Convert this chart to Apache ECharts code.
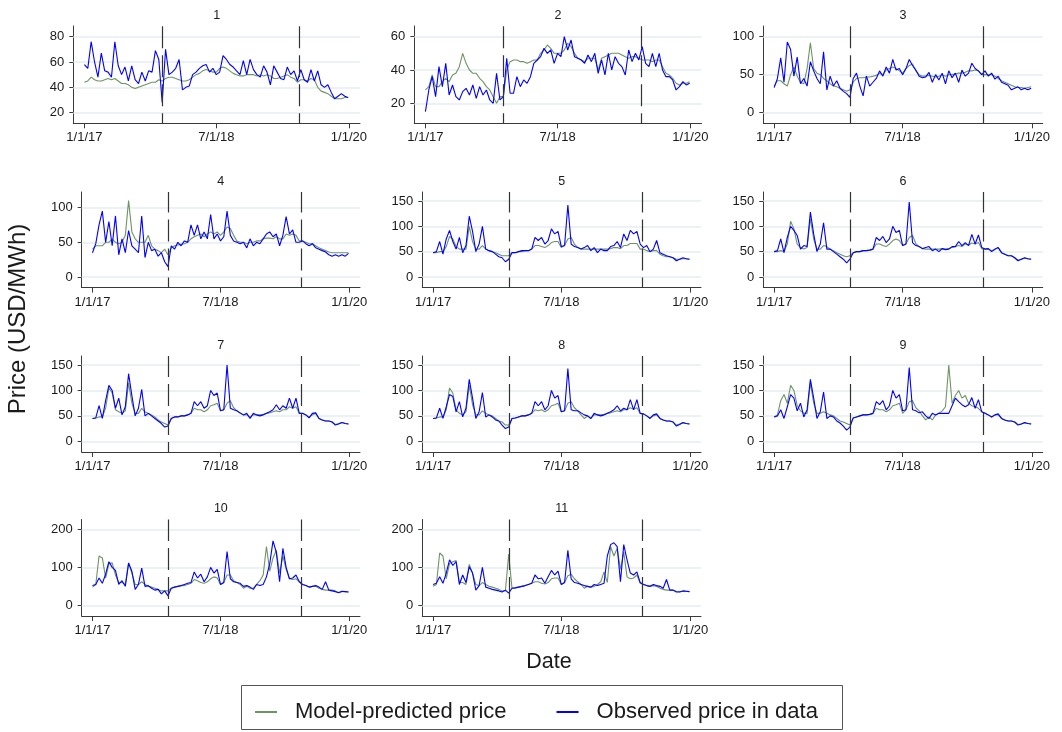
<!DOCTYPE html>
<html>
<head>
<meta charset="utf-8">
<script src="https://cdn.jsdelivr.net/npm/echarts@6/dist/echarts.min.js"></script>
<style>
  html, body { margin: 0; padding: 0; background: #ffffff; }
  #chart { width: 1062px; height: 732px; }
</style>
</head>
<body>
<div id="chart"></div>
<script>
// ---- Time base: fortnightly observations, 1 Jan 2017 to 29 Dec 2019 ----
const DAY = 86400000;
const START_DATE = Date.UTC(2017, 0, 1);
const STEP_DAYS = 14;
const POINT_COUNT = 79;
const dates = [];
for (let i = 0; i < POINT_COUNT; i++) dates.push(START_DATE + i * STEP_DAYS * DAY);

// x tick labels and the two period breaks
const xTickDates = [Date.UTC(2017, 0, 1), Date.UTC(2018, 6, 1), Date.UTC(2020, 0, 1)];
const breakDates = [Date.UTC(2017, 10, 20), Date.UTC(2019, 5, 10)];

const panelTitles = ['1', '2', '3', '4', '5', '6', '7', '8', '9', '10', '11'];

// y tick labels per panel
const yTicks = [
  [20, 40, 60, 80],
  [20, 40, 60],
  [0, 50, 100],
  [0, 50, 100],
  [0, 50, 100, 150],
  [0, 50, 100, 150],
  [0, 50, 100, 150],
  [0, 50, 100, 150],
  [0, 50, 100, 150],
  [0, 100, 200],
  [0, 100, 200]
];
// y axis extents per panel
const yRanges = [
  [11.6, 88.4], [8, 66.4], [-14, 114],
  [-15.3, 122.5], [-21, 167.8], [-21, 167.8],
  [-21, 167.8], [-21, 167.8], [-21, 167.8],
  [-28.2, 226.3], [-28.2, 226.3]
];

// ---- Prices (USD/MWh) ----
const model1 = [44,45,48,46,45,45,46,47,46,47, 45,43,43,42,40,39,40,41,42,43, 44,44,46,45,47,48,48,47,46,45,
  45,46,48,50,51,53,54,53,52,52, 55,56,55,53,51,50,49,49,50,50, 50,49,50,49,50,49,47,47,48,49,
  50,48,47,44,46,46,45,47,46,40, 37,36,35,33,31,31,31,32,32];
const observed1 = [58,55,76,60,48,67,53,52,48,76, 57,50,56,45,57,46,43,52,45,53, 52,69,62,28,70,50,52,55,62,38,
  40,41,50,52,55,57,58,52,55,50, 52,65,62,58,56,53,50,61,50,62, 54,50,48,57,52,42,57,52,47,46,
  56,50,53,45,54,46,44,54,45,53, 42,40,42,36,31,33,35,33,32];

const model2 = [28,30,37,30,30,33,35,33,37,38, 42,50,44,40,38,38,35,33,30,28, 24,20,24,24,40,45,46,46,45,45,
  44,45,46,46,50,52,55,53,50,50, 50,52,56,54,50,47,46,45,47,47, 47,40,47,48,49,50,50,50,49,48,
  47,48,48,47,46,46,46,45,46,46, 42,38,37,35,32,31,32,32,33];
const observed2 = [15,28,36,24,42,30,44,25,31,24, 22,27,29,25,31,23,30,25,28,22, 20,38,22,24,47,26,26,36,30,34,
  32,36,44,46,48,53,50,52,44,50, 48,60,52,58,48,47,46,44,49,45, 50,38,46,37,50,40,48,44,42,37,
  52,45,50,46,54,44,42,50,42,50, 40,36,36,34,28,30,33,31,32];

const model3 = [35,42,42,38,35,50,60,48,40,38, 58,92,58,52,50,45,42,38,35,34, 32,30,28,30,40,45,46,46,47,47,
  48,49,52,50,56,58,60,58,55,52, 58,62,64,55,50,48,48,49,48,47, 48,50,48,50,50,51,52,52,53,55,
  55,56,55,50,50,50,50,48,45,42, 40,38,36,34,33,33,32,33,34];
const observed3 = [33,45,72,40,93,83,48,73,38,45, 35,67,55,45,38,80,30,48,35,42, 32,28,25,20,45,52,35,22,48,35,
  40,45,55,48,60,52,70,56,58,50, 58,70,62,56,48,46,47,53,40,50, 43,52,38,55,46,52,40,56,48,52,
  65,58,55,50,55,48,52,44,48,40, 38,36,30,32,34,30,32,30,32];

const model4 = [40,45,45,45,50,50,55,50,48,50, 60,110,65,55,50,50,50,60,45,40, 38,35,40,32,42,45,46,47,48,50,
  55,58,60,62,58,62,65,62,65,60, 65,72,70,60,52,50,50,48,50,50, 52,52,55,56,56,55,58,55,55,62,
  60,62,60,52,52,50,48,48,45,42, 40,38,36,35,35,35,35,35,35];
const observed4 = [35,48,75,95,50,80,45,88,32,55, 35,67,45,40,35,88,28,50,38,40, 30,35,22,15,45,40,50,45,52,50,
  75,60,75,55,65,55,90,55,62,52, 58,95,60,52,50,48,50,42,55,45, 50,48,55,62,65,58,62,45,60,87,
  62,68,50,50,52,48,45,48,42,40, 38,36,32,30,32,30,32,30,34];

const model5 = [48,48,50,50,60,80,75,60,55,55, 55,100,70,55,55,62,55,52,50,48, 45,42,42,42,48,48,50,50,52,52,
  55,62,62,60,58,62,68,70,70,58, 62,75,78,65,58,55,55,55,55,55, 55,55,55,55,56,58,58,56,62,62,
  66,66,66,55,55,52,50,52,52,45, 42,40,40,38,35,35,36,36,35];
const observed5 = [48,50,70,45,75,92,70,55,78,48, 62,120,90,50,65,100,55,52,50,45, 40,38,30,35,48,48,50,52,52,52,
  55,78,72,78,65,72,95,85,90,60, 62,142,65,60,58,55,58,62,52,58, 48,55,52,52,60,62,70,58,85,72,
  92,85,90,65,58,62,50,55,72,48, 45,42,40,38,32,35,38,36,35];

const model6 = [50,50,52,50,65,110,95,65,58,55, 58,115,75,55,55,62,60,55,52,48, 45,42,40,42,48,50,50,52,52,53,
  55,65,65,62,60,65,72,75,72,62, 65,78,82,66,60,56,55,55,55,55, 55,56,55,56,58,60,62,60,65,63,
  67,65,68,56,55,55,52,54,58,48, 45,42,42,38,33,35,37,36,35];
const observed6 = [50,52,75,48,78,100,92,82,55,62, 60,128,85,50,65,107,55,55,50,45, 40,35,28,35,48,50,50,52,52,53,
  55,78,72,80,68,75,100,88,92,62, 65,148,68,62,60,56,58,60,52,55, 50,56,54,55,60,60,70,62,68,62,
  84,65,83,58,55,56,50,55,58,48, 45,42,42,38,32,35,38,36,35];

const model7 = [45,46,48,48,65,105,95,62,58,55, 60,115,75,55,55,65,58,55,52,48, 42,38,35,32,45,48,48,50,50,52,
  55,65,62,62,58,62,70,72,75,60, 62,75,80,66,60,55,52,52,48,52, 52,52,53,55,56,58,60,58,62,62,
  68,65,68,55,55,52,48,52,55,45, 42,40,40,38,33,35,37,35,34];
const observed7 = [45,46,70,45,80,110,100,65,85,52, 68,133,90,50,65,102,50,55,50,45, 40,35,28,30,45,48,48,50,50,52,
  55,78,70,78,65,70,100,90,95,60, 62,150,65,62,60,56,52,55,45,55, 52,50,52,55,58,62,72,62,70,65,
  85,65,85,55,55,52,46,55,56,45, 42,40,40,38,32,34,37,35,34];

const model8 = [45,46,48,48,62,105,95,62,55,52, 58,110,72,52,52,60,55,52,50,45, 40,38,32,32,45,46,48,50,50,52,
  55,62,60,62,58,62,70,72,75,58, 60,75,78,66,60,52,45,50,45,52, 52,52,53,55,56,58,60,58,62,62,
  66,63,66,55,54,50,46,50,52,45, 42,40,40,38,32,34,36,35,34];
const observed8 = [45,46,65,45,68,92,88,58,78,48, 65,122,85,45,58,96,48,52,48,42, 40,32,25,28,45,46,48,50,50,52,
  55,78,70,78,62,70,100,85,90,58, 60,143,62,60,60,56,52,50,45,55, 52,50,52,55,58,62,70,60,65,62,
  82,62,82,55,54,50,45,52,54,45, 42,40,40,38,30,33,37,35,34];

const model9 = [48,52,80,92,75,110,100,70,60,55, 55,115,75,55,55,58,55,52,50,45, 40,38,35,32,46,48,50,52,52,53,
  55,65,62,62,58,62,70,72,75,55, 62,78,80,66,60,50,42,48,42,52, 55,60,68,150,75,90,100,85,90,75,
  70,68,65,58,55,52,48,52,52,45, 42,40,40,38,33,34,36,35,34];
const observed9 = [48,50,62,45,68,92,85,60,75,48, 62,122,85,45,58,97,45,50,48,40, 36,30,22,28,46,48,50,52,52,53,
  55,78,72,80,62,70,100,85,92,60, 62,145,62,60,56,58,50,45,55,52, 55,55,55,55,70,85,78,72,68,72,
  86,65,82,58,55,52,48,52,54,45, 42,40,40,38,32,34,37,35,34];

const model10 = [48,55,130,125,72,110,112,80,60,60, 55,110,85,55,55,62,55,50,48,45, 42,38,38,38,45,48,50,52,52,55,
  58,68,65,60,58,62,70,75,72,55, 60,80,80,65,60,55,45,50,45,45, 55,65,80,155,90,125,145,85,130,95,
  70,68,70,62,55,52,48,50,50,45, 42,40,40,40,38,34,36,36,35];
const observed10 = [52,55,72,58,82,115,100,92,55,65, 50,112,90,42,55,98,50,52,45,40, 42,30,38,25,45,48,50,52,55,58,
  60,88,72,82,62,75,100,85,95,55, 60,142,70,62,60,58,50,52,48,42, 55,52,55,75,110,170,140,62,150,100,
  70,72,80,62,55,52,48,50,52,48, 42,62,40,38,36,33,37,36,35];

const model11 = [50,55,138,130,70,110,115,118,60,60, 55,108,85,55,52,60,55,50,48,45, 42,38,38,135,45,46,48,50,52,55,
  58,62,62,58,56,60,70,72,72,55, 60,78,82,70,62,55,45,50,48,50, 55,62,88,60,155,130,150,95,140,75,
  70,72,80,58,55,52,50,52,50,45, 42,40,40,40,37,36,37,37,36];
const observed11 = [55,58,75,58,85,120,105,115,55,80, 60,102,85,40,52,100,48,45,42,40, 38,35,40,32,45,46,48,50,52,55,
  58,80,70,72,58,75,92,80,90,55, 60,145,70,60,58,55,52,50,48,55, 52,55,58,130,160,165,155,62,160,120,
  85,80,88,60,55,52,50,55,52,50, 45,68,40,40,35,35,38,37,36];

const modelSeries = [model1, model2, model3, model4, model5, model6, model7, model8, model9, model10, model11];
const observedSeries = [observed1, observed2, observed3, observed4, observed5, observed6, observed7, observed8, observed9, observed10, observed11];

// ---- Panel layout (plot areas in px) ----
const rowTop = [26, 192, 356, 519.5];
const rowHeight = [97.3, 95.6, 96, 96.5];
const panelBoxes = [
  { left: 73.3, right: 360, row: 0 },
  { left: 414.3, right: 701.5, row: 0 },
  { left: 763.3, right: 1042.7, row: 0 },
  { left: 81.7, right: 360, row: 1 },
  { left: 422.3, right: 701, row: 1 },
  { left: 763.3, right: 1042.7, row: 1 },
  { left: 81.7, right: 360, row: 2 },
  { left: 422.3, right: 701, row: 2 },
  { left: 763.3, right: 1042.7, row: 2 },
  { left: 81.7, right: 360, row: 3 },
  { left: 422.3, right: 701, row: 3 }
];

const MODEL_COLOR = '#6e9462';
const OBSERVED_COLOR = '#0000ff';
const AXIS_COLOR = '#3a3a3a';
const TEXT_COLOR = '#1a1a1a';
const FONT = '"Liberation Sans", Arial, Helvetica, sans-serif';

const X_PAD = 46 * DAY;
const xMin = xTickDates[0] - X_PAD;
const xMax = xTickDates[2] + X_PAD;

function fmtDate(v) {
  const d = new Date(v);
  return (d.getUTCMonth() + 1) + '/' + d.getUTCDate() + '/' + String(d.getUTCFullYear()).slice(2);
}

const grid = [], xAxis = [], yAxis = [], series = [], graphic = [];

panelBoxes.forEach((b, k) => {
  const top = rowTop[b.row];
  const h = rowHeight[b.row];
  grid.push({ left: b.left, top: top, width: b.right - b.left, height: h, containLabel: false });

  xAxis.push({
    type: 'value', gridIndex: k, min: xMin, max: xMax,
    axisLine: { show: true, onZero: false, lineStyle: { color: AXIS_COLOR, width: 1 } },
    axisTick: { show: true, length: 5, customValues: xTickDates, lineStyle: { color: AXIS_COLOR, width: 1 } },
    axisLabel: { show: true, customValues: xTickDates, formatter: fmtDate, margin: 8,
      fontSize: 13, color: TEXT_COLOR, fontFamily: FONT },
    splitLine: { show: false }
  });

  yAxis.push({
    type: 'value', gridIndex: k, min: yRanges[k][0], max: yRanges[k][1],
    axisLine: { show: true, lineStyle: { color: AXIS_COLOR, width: 1 } },
    axisTick: { show: true, length: 4, customValues: yTicks[k], lineStyle: { color: AXIS_COLOR, width: 1 } },
    axisLabel: { show: true, customValues: yTicks[k], margin: 9,
      fontSize: 13, color: TEXT_COLOR, fontFamily: FONT },
    splitLine: { show: false }
  });

  series.push({
    name: 'Model-predicted price', type: 'line', xAxisIndex: k, yAxisIndex: k,
    data: modelSeries[k].map((v, i) => [dates[i], v]),
    showSymbol: false, symbol: 'none', z: 3,
    lineStyle: { color: MODEL_COLOR, width: 1.1 }, itemStyle: { color: MODEL_COLOR },
    markLine: {
      silent: true, z: 1, symbol: ['none', 'none'], label: { show: false },
      lineStyle: { color: '#e6edf3', width: 1.6, type: 'solid' },
      data: yTicks[k].map(v => ({ yAxis: v }))
    }
  });
  series.push({
    name: 'Observed price in data', type: 'line', xAxisIndex: k, yAxisIndex: k,
    data: observedSeries[k].map((v, i) => [dates[i], v]),
    showSymbol: false, symbol: 'none', z: 4,
    lineStyle: { color: OBSERVED_COLOR, width: 1.1 }, itemStyle: { color: OBSERVED_COLOR },
    markLine: {
      silent: true, z: 10, symbol: ['none', 'none'], label: { show: false },
      lineStyle: { color: '#333333', width: 1.2, type: [22, 7], dashOffset: 12 },
      data: breakDates.map(t => ({ xAxis: t }))
    }
  });

  graphic.push({
    type: 'text', x: (b.left + b.right) / 2, y: top - 10.5,
    style: { text: panelTitles[k], font: '12.5px ' + FONT, fill: TEXT_COLOR,
      textAlign: 'center', textVerticalAlign: 'middle' }
  });
});

// axis titles
graphic.push({
  type: 'text', x: 18, y: 319, rotation: Math.PI / 2,
  style: { text: 'Price (USD/MWh)', font: '24px ' + FONT, fill: TEXT_COLOR,
    textAlign: 'center', textVerticalAlign: 'middle' }
});
graphic.push({
  type: 'text', x: 549, y: 662,
  style: { text: 'Date', font: '21.5px ' + FONT, fill: TEXT_COLOR,
    textAlign: 'center', textVerticalAlign: 'middle' }
});
// legend frame
graphic.push({
  type: 'rect', shape: { x: 241.5, y: 685.5, width: 601, height: 44 },
  style: { fill: 'none', stroke: '#555555', lineWidth: 1 }
});

const chart = echarts.init(document.getElementById('chart'), null, { renderer: 'canvas' });
chart.setOption({
  animation: false,
  backgroundColor: '#ffffff',
  grid, xAxis, yAxis, series, graphic,
  legend: {
    data: ['Model-predicted price', 'Observed price in data'],
    left: 250, top: 696, icon: 'rect', itemWidth: 22, itemHeight: 2, itemGap: 50,
    textStyle: { fontSize: 22, color: TEXT_COLOR, fontFamily: FONT, padding: [0, 0, 0, 13] },
    selectedMode: false
  }
});
</script>
</body>
</html>
